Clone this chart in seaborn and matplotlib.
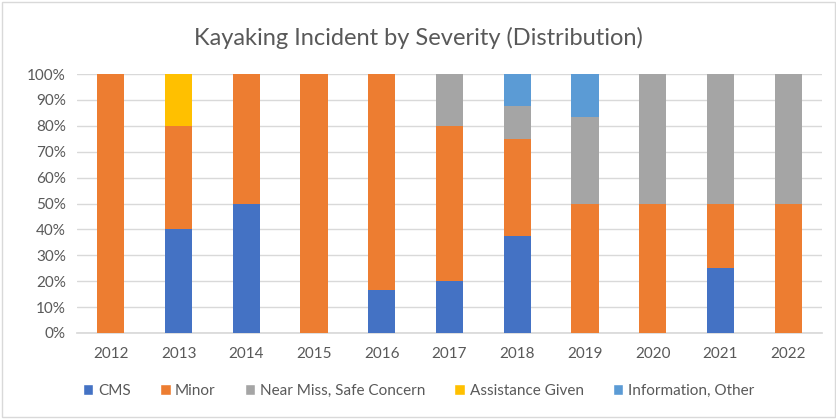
import numpy as np
import pandas as pd
import seaborn as sns
import matplotlib.pyplot as plt
from matplotlib.patches import Patch

years = ["2012", "2013", "2014", "2015", "2016", "2017", "2018", "2019", "2020", "2021", "2022"]
cms = [0, 40, 50, 0, 16.7, 20, 37.5, 0, 0, 25, 0]
minor = [100, 40, 50, 100, 83.3, 60, 37.5, 50, 50, 25, 50]
near_miss = [0, 0, 0, 0, 0, 20, 12.5, 33.3, 50, 50, 50]
assistance = [0, 20, 0, 0, 0, 0, 0, 0, 0, 0, 0]
information = [0, 0, 0, 0, 0, 0, 12.5, 16.7, 0, 0, 0]

series = ["CMS", "Minor", "Near Miss, Safe Concern", "Assistance Given", "Information, Other"]
colors = ["#4472C4", "#ED7D31", "#A5A5A5", "#FFC000", "#5B9BD5"]

df = pd.DataFrame({"year": years, "CMS": cms, "Minor": minor,
                   "Near Miss, Safe Concern": near_miss,
                   "Assistance Given": assistance, "Information, Other": information})
cum = df[series].cumsum(axis=1)

sns.set_theme(style="white")
plt.rcParams["font.family"] = ["Lato", "DejaVu Sans"]

fig = plt.figure(figsize=(8.37, 4.19), dpi=100)
ax = fig.add_axes([77 / 837, 1 - 333 / 419, (822 - 77) / 837, (333 - 74) / 419])

# stacked bars: draw cumulative totals from the top series down
for name, color in reversed(list(zip(series, colors))):
    sns.barplot(x=df["year"], y=cum[name], color=color, width=0.4,
                linewidth=0, saturation=1, ax=ax, zorder=3)

ax.set_ylim(0, 100)
ax.set_yticks(np.arange(0, 101, 10))
ax.set_yticklabels([f"{v}%" for v in range(0, 101, 10)])
ax.yaxis.grid(True, color="#D9D9D9", linewidth=1, zorder=0)
ax.set_axisbelow(True)
for s in ["top", "right", "left"]:
    ax.spines[s].set_visible(False)
ax.spines["bottom"].set_color("#D9D9D9")
ax.tick_params(axis="both", colors="#595959", labelsize=11, length=0)
ax.tick_params(axis="x", pad=10)
ax.tick_params(axis="y", pad=8)
ax.set_xlabel("")
ax.set_ylabel("")

fig.text(0.5, 1 - 38 / 419, "Kayaking Incident by Severity (Distribution)",
         ha="center", va="center", fontsize=17, color="#595959")

handles = [Patch(facecolor=c, label=n) for n, c in zip(series, colors)]
fig.legend(handles=handles, loc="center", bbox_to_anchor=(0.5, 1 - 391 / 419),
           ncol=5, frameon=False, fontsize=11, labelcolor="#595959",
           handlelength=0.7, handleheight=0.7, handletextpad=0.3, columnspacing=1.9)

fig.add_artist(plt.Rectangle((0.002, 0.004), 0.996, 0.992, transform=fig.transFigure,
                             fill=False, edgecolor="#D9D9D9", linewidth=1))

fig.savefig("out.png", dpi=100)
